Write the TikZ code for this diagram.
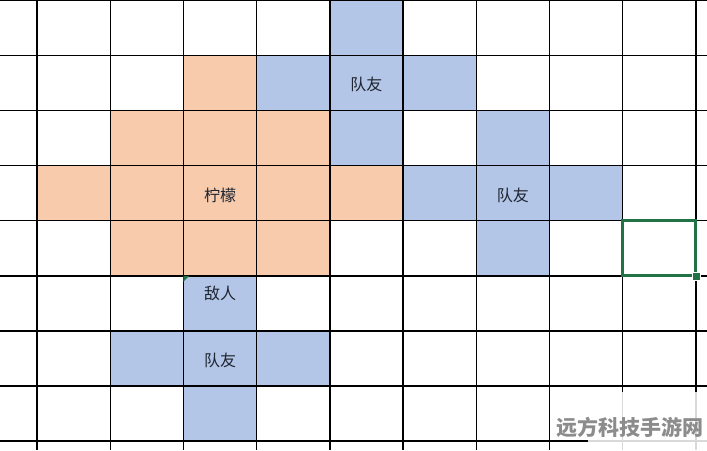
\documentclass[tikz,border=0pt]{standalone}
\usepackage{fontspec}
\newfontfamily\cjk{Noto Sans CJK SC}
\definecolor{peach}{HTML}{F8CBAD}
\definecolor{teamblue}{HTML}{B4C6E7}
\definecolor{selgreen}{HTML}{217346}
\definecolor{inkdark}{HTML}{1E2430}
\definecolor{wmgray}{HTML}{8C8C8C}
\tikzset{
  gridline/.style={draw=black, line width=1.4pt},
  orangecell/.style={fill=peach},
  bluecell/.style={fill=teamblue},
  celltext/.style={inner sep=0pt, text=inkdark, font=\cjk\fontsize{16}{16}\selectfont},
  selbox/.style={draw=selgreen, line width=3pt},
  wmtext/.style={inner sep=0pt, text=wmgray, font=\cjk\bfseries\fontsize{21}{21}\selectfont}
}
\begin{document}
\begin{tikzpicture}[x=1pt,y=-1pt]
\useasboundingbox (0,0) rectangle (707,450);
\fill[white] (0,0) rectangle (707,450);
\def\cw{73.2}
\def\ch{55.1}
% orange cells
\foreach \c/\r in {2/1,1/2,2/2,3/2,0/3,1/3,2/3,3/3,4/3,1/4,2/4,3/4}
  \fill[orangecell] ({37+\cw*\c},{0.3+\ch*\r}) rectangle ++(\cw,\ch);
% blue cells
\foreach \c/\r in {4/0,3/1,4/1,5/1,4/2,6/2,5/3,6/3,7/3,6/4,2/5,1/6,2/6,3/6,2/7}
  \fill[bluecell] ({37+\cw*\c},{0.3+\ch*\r}) rectangle ++(\cw,\ch);
% grid
\foreach \c in {0,...,9}
  \draw[gridline] ({37+\cw*\c},0) -- ({37+\cw*\c},450);
\foreach \r in {0,...,8}
  \draw[gridline] (0,{0.3+\ch*\r}) -- (707,{0.3+\ch*\r});
% texts
\node[celltext] (mate1) at ({37+\cw*4.5},84) {队友};
\node[celltext] (lemon) at ({37+\cw*2.5},195) {柠檬};
\node[celltext] (mate2) at ({37+\cw*6.5},195) {队友};
\node[celltext] (enemy) at ({37+\cw*2.5},293) {敌人};
\node[celltext] (mate3) at ({37+\cw*2.5},360) {队友};
% green indicator
\fill[selgreen] ({37+\cw*2},{0.3+\ch*5}) -- ++(6,0) -- ++(-6,6) -- cycle;
% selection box
\draw[selbox] ({37+\cw*8},{0.3+\ch*4}) rectangle ({37+\cw*9},{0.3+\ch*5});
\fill[selgreen, draw=white, line width=0.6pt] ({37+\cw*9-4},{0.3+\ch*5-4}) rectangle ++(8,8);
% watermark
\fill[white, opacity=0.85] (588,392) rectangle (707,450);
\node[wmtext] (wm) at (630,427) {远方科技手游网};
\end{tikzpicture}
\end{document}
